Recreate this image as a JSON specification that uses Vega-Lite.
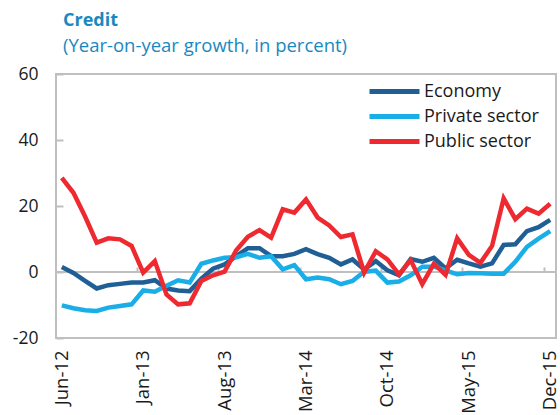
{
  "$schema": "https://vega.github.io/schema/vega-lite/v6.json",
  "width": 500,
  "height": 264,
  "autosize": {"type": "none"},
  "padding": {"left": 56, "top": 74, "right": 4, "bottom": 77},
  "background": "white",
  "config": {
    "font": "Open Sans",
    "view": {"stroke": "#bfbfbf", "strokeWidth": 2}
  },
  "title": {
    "text": "Credit",
    "subtitle": "(Year-on-year growth, in percent)",
    "anchor": "start",
    "frame": "group",
    "dx": 7,
    "offset": 10,
    "color": "#1a88c0",
    "subtitleColor": "#1a88c0",
    "fontSize": 18,
    "fontWeight": "bold",
    "subtitleFontSize": 18.5,
    "subtitlePadding": 7,
    "font": "Open Sans",
    "subtitleFont": "Open Sans"
  },
  "data": {
    "values": [
      {"m": "Jun-12", "Economy": 1.5, "Private sector": -10.1, "Public sector": 28.5},
      {"m": "Jul-12", "Economy": -0.3, "Private sector": -11.0, "Public sector": 24.0},
      {"m": "Aug-12", "Economy": -2.7, "Private sector": -11.6, "Public sector": 16.8},
      {"m": "Sep-12", "Economy": -5.0, "Private sector": -11.8, "Public sector": 8.9},
      {"m": "Oct-12", "Economy": -4.0, "Private sector": -10.8, "Public sector": 10.2},
      {"m": "Nov-12", "Economy": -3.6, "Private sector": -10.3, "Public sector": 9.9},
      {"m": "Dec-12", "Economy": -3.2, "Private sector": -9.8, "Public sector": 7.9},
      {"m": "Jan-13", "Economy": -3.2, "Private sector": -5.6, "Public sector": -0.2},
      {"m": "Feb-13", "Economy": -2.5, "Private sector": -6.0, "Public sector": 3.3},
      {"m": "Mar-13", "Economy": -5.0, "Private sector": -4.2, "Public sector": -6.8},
      {"m": "Apr-13", "Economy": -5.6, "Private sector": -2.5, "Public sector": -9.8},
      {"m": "May-13", "Economy": -5.8, "Private sector": -3.2, "Public sector": -9.5},
      {"m": "Jun-13", "Economy": -2.0, "Private sector": 2.5, "Public sector": -2.7},
      {"m": "Jul-13", "Economy": 1.0, "Private sector": 3.5, "Public sector": -1.0},
      {"m": "Aug-13", "Economy": 2.3, "Private sector": 4.3, "Public sector": 0.1},
      {"m": "Sep-13", "Economy": 4.8, "Private sector": 4.5, "Public sector": 6.6},
      {"m": "Oct-13", "Economy": 7.2, "Private sector": 5.5, "Public sector": 10.7},
      {"m": "Nov-13", "Economy": 7.2, "Private sector": 4.3, "Public sector": 12.7},
      {"m": "Dec-13", "Economy": 4.8, "Private sector": 4.8, "Public sector": 10.4},
      {"m": "Jan-14", "Economy": 4.8, "Private sector": 0.8, "Public sector": 19.0},
      {"m": "Feb-14", "Economy": 5.5, "Private sector": 2.1, "Public sector": 18.0},
      {"m": "Mar-14", "Economy": 6.9, "Private sector": -2.2, "Public sector": 22.0},
      {"m": "Apr-14", "Economy": 5.4, "Private sector": -1.7, "Public sector": 16.5},
      {"m": "May-14", "Economy": 4.3, "Private sector": -2.2, "Public sector": 14.1},
      {"m": "Jun-14", "Economy": 2.3, "Private sector": -3.7, "Public sector": 10.6},
      {"m": "Jul-14", "Economy": 3.8, "Private sector": -2.7, "Public sector": 11.4},
      {"m": "Aug-14", "Economy": 0.8, "Private sector": 0.1, "Public sector": -0.2},
      {"m": "Sep-14", "Economy": 3.3, "Private sector": 0.4, "Public sector": 6.3},
      {"m": "Oct-14", "Economy": 0.5, "Private sector": -3.2, "Public sector": 3.8},
      {"m": "Nov-14", "Economy": -1.0, "Private sector": -2.9, "Public sector": -0.7},
      {"m": "Dec-14", "Economy": 3.9, "Private sector": -1.0, "Public sector": 3.6},
      {"m": "Jan-15", "Economy": 3.1, "Private sector": 1.6, "Public sector": -3.7},
      {"m": "Feb-15", "Economy": 4.3, "Private sector": 1.6, "Public sector": 2.5},
      {"m": "Mar-15", "Economy": 1.1, "Private sector": 0.5, "Public sector": -0.9},
      {"m": "Apr-15", "Economy": 3.7, "Private sector": -0.7, "Public sector": 10.2},
      {"m": "May-15", "Economy": 2.6, "Private sector": -0.3, "Public sector": 5.2},
      {"m": "Jun-15", "Economy": 1.6, "Private sector": -0.4, "Public sector": 2.8},
      {"m": "Jul-15", "Economy": 2.6, "Private sector": -0.5, "Public sector": 7.9},
      {"m": "Aug-15", "Economy": 8.2, "Private sector": -0.5, "Public sector": 22.3},
      {"m": "Sep-15", "Economy": 8.4, "Private sector": 3.1, "Public sector": 16.0},
      {"m": "Oct-15", "Economy": 12.4, "Private sector": 7.6, "Public sector": 19.2},
      {"m": "Nov-15", "Economy": 13.6, "Private sector": 10.1, "Public sector": 17.7},
      {"m": "Dec-15", "Economy": 15.8, "Private sector": 12.4, "Public sector": 20.7}
    ]
  },
  "transform": [
    {"fold": ["Economy", "Private sector", "Public sector"], "as": ["series", "value"]}
  ],
  "layer": [
    {
      "mark": {"type": "rule", "color": "#bfbfbf", "strokeWidth": 2},
      "encoding": {"y": {"datum": 0, "type": "quantitative"}}
    },
    {
      "mark": {"type": "line", "opacity": 0},
      "encoding": {
        "x": {
          "field": "m", "type": "ordinal", "sort": null,
          "scale": {"type": "band", "paddingInner": 0, "paddingOuter": 0},
          "axis": {
            "orient": "top",
            "offset": -198,
            "values": ["Jan-13", "Aug-13", "Mar-14", "Oct-14", "May-15", "Dec-15"],
            "bandPosition": 0,
            "labels": false,
            "domain": false,
            "ticks": true,
            "tickSize": 5,
            "tickColor": "#bfbfbf",
            "tickWidth": 2,
            "grid": false,
            "title": null
          }
        },
        "y": {"field": "value", "type": "quantitative"},
        "detail": {"field": "series"}
      }
    },
    {
      "mark": {"type": "line", "strokeWidth": 4.5, "strokeJoin": "miter"},
      "encoding": {
        "x": {
          "field": "m", "type": "ordinal", "sort": null,
          "bandPosition": 0.5,
          "scale": {"type": "band", "paddingInner": 0, "paddingOuter": 0},
          "axis": {
            "orient": "bottom",
            "values": ["Jun-12", "Jan-13", "Aug-13", "Mar-14", "Oct-14", "May-15", "Dec-15"],
            "labelAngle": -90,
            "labelFontSize": 18.5,
            "labelColor": "#1a1a1a",
            "labelPadding": 12,
            "ticks": false,
            "domain": false,
            "grid": false,
            "title": null
          }
        },
        "y": {
          "field": "value", "type": "quantitative",
          "scale": {"domain": [-20, 60], "nice": false},
          "axis": {
            "values": [-20, 0, 20, 40, 60],
            "labelExpr": "'' + datum.value",
            "labelFontSize": 17.5,
            "labelColor": "#1a1a1a",
            "tickSize": -7,
            "tickColor": "#bfbfbf",
            "tickWidth": 2,
            "labelPadding": 25,
            "domain": false,
            "grid": false,
            "title": null
          }
        },
        "color": {
          "field": "series", "type": "nominal",
          "scale": {
            "domain": ["Economy", "Private sector", "Public sector"],
            "range": ["#1f5f95", "#19aee8", "#ee2a30"]
          },
          "legend": {
            "orient": "none",
            "legendX": 311,
            "legendY": 5,
            "title": null,
            "symbolType": "stroke",
            "symbolSize": 2500,
            "symbolStrokeWidth": 5,
            "clipHeight": 25,
            "labelFontSize": 18,
            "labelColor": "#1a1a1a",
            "labelOffset": 2,
            "rowPadding": 0
          }
        }
      }
    }
  ],
  "resolve": {"axis": {"x": "independent"}}
}
